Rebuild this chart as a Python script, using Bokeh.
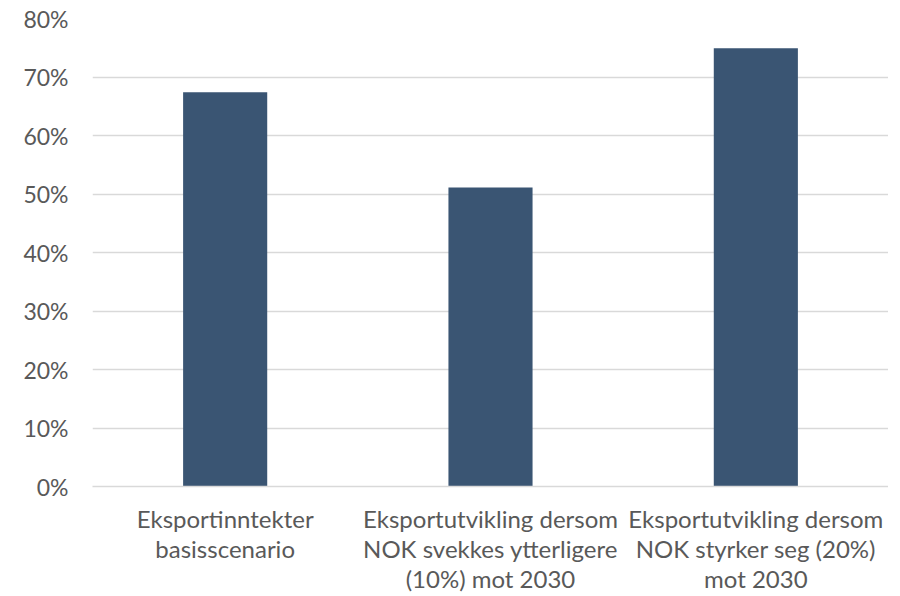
from bokeh.plotting import figure
from bokeh.models import FactorRange, Range1d, NumeralTickFormatter, FixedTicker
from bokeh.embed import file_html
from bokeh.resources import INLINE

categories = [
    "Eksportinntekter\nbasisscenario",
    "Eksportutvikling dersom\nNOK svekkes ytterligere\n(10%) mot 2030",
    "Eksportutvikling dersom\nNOK styrker seg (20%)\nmot 2030",
]
values = [0.674, 0.511, 0.749]
y_ticks = [0, 0.1, 0.2, 0.3, 0.4, 0.5, 0.6, 0.7, 0.8]

FONT = "Lato"
TXT = "#595959"

p = figure(
    x_range=FactorRange(*categories, range_padding=0),
    y_range=Range1d(0, 0.8),
    width=888, height=596,
    output_backend="svg", toolbar_location=None,
    min_border_left=92, min_border_right=0, min_border_top=18, min_border_bottom=108,
)
p.vbar(x=categories, top=values, width=0.317, color="#3A5573", line_color=None)

p.outline_line_color = None
p.xgrid.grid_line_color = None
p.ygrid.grid_line_color = "#D9D9D9"
p.ygrid.grid_line_width = 1.5
p.yaxis.ticker = FixedTicker(ticks=y_ticks)
p.yaxis.formatter = NumeralTickFormatter(format="0%")
p.yaxis.axis_line_color = None
p.yaxis.major_tick_line_color = None
p.yaxis.minor_tick_line_color = None
p.yaxis.major_label_standoff = 18
p.yaxis.major_label_text_font = FONT
p.yaxis.major_label_text_font_size = "23px"
p.yaxis.major_label_text_color = TXT

p.xaxis.axis_line_color = "#D9D9D9"
p.xaxis.axis_line_width = 1.5
p.xaxis.major_tick_line_color = None
p.xaxis.minor_tick_line_color = None
p.xaxis.major_label_standoff = 11
p.xaxis.major_label_text_font = FONT
p.xaxis.major_label_text_font_size = "24px"
p.xaxis.major_label_text_color = TXT
p.xaxis.major_label_text_line_height = 1.05

open("out.html", "w").write(file_html(p, INLINE))
